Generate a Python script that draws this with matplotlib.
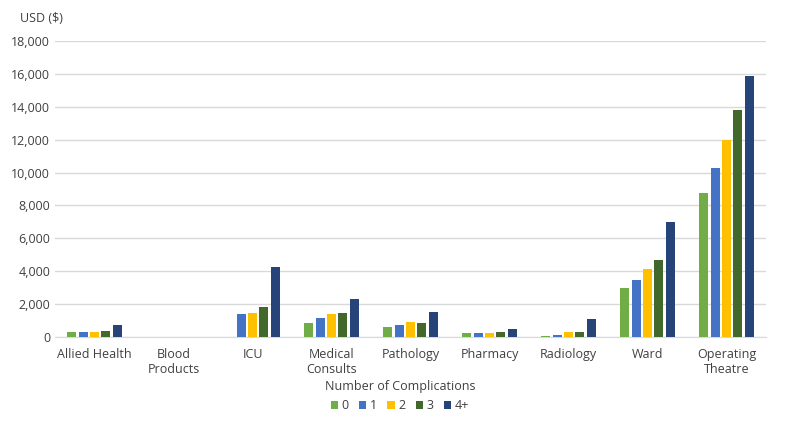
import matplotlib
matplotlib.use("Agg")
import matplotlib.pyplot as plt
import numpy as np
from matplotlib.ticker import FuncFormatter

plt.rcParams['font.family'] = ['Open Sans', 'DejaVu Sans']

categories = ["Allied Health", "Blood\nProducts", "ICU", "Medical\nConsults", "Pathology",
              "Pharmacy", "Radiology", "Ward", "Operating\nTheatre"]
series_names = ["0", "1", "2", "3", "4+"]
v0 = [280, 0, 0, 850, 600, 250, 80, 2980, 8750]
v1 = [300, 0, 1380, 1130, 750, 260, 150, 3480, 10300]
v2 = [300, 0, 1430, 1420, 930, 270, 280, 4130, 12000]
v3 = [380, 0, 1850, 1480, 860, 300, 330, 4700, 13800]
v4 = [760, 0, 4230, 2320, 1520, 470, 1070, 7000, 15900]
series = [v0, v1, v2, v3, v4]
colors = ["#70AD47", "#4472C4", "#FFC000", "#43682B", "#264478"]

fig = plt.figure(figsize=(8, 4.28), dpi=100)
ax = fig.add_axes([55/800, 1-337/428, (766-55)/800, (337-41)/428])

x = np.arange(len(categories))
step = 0.145
width = 0.115
for i, (vals, c, n) in enumerate(zip(series, colors, series_names)):
    ax.bar(x + (i-2)*step, vals, width=width, color=c, label=n, zorder=3)

ax.set_xlim(-0.5, len(categories)-0.5)
ax.set_ylim(0, 18000)
ax.set_yticks(np.arange(0, 18001, 2000))
ax.yaxis.set_major_formatter(FuncFormatter(lambda v, p: f"{int(v):,}"))
ax.grid(axis='y', color='#D9D9D9', linewidth=1, zorder=0)
for s in ['top', 'right', 'left']:
    ax.spines[s].set_visible(False)
ax.spines['bottom'].set_color('#D9D9D9')
ax.tick_params(axis='both', length=0, labelsize=9, colors='#404040')
ax.tick_params(axis='x', pad=8)
ax.set_xticks(x)
ax.set_xticklabels(categories)

fig.text(20/800, 1-18/428, "USD ($)", fontsize=9, color='#404040', va='center', ha='left')

leg = fig.legend(loc='center', bbox_to_anchor=(400/800, 1-396/428), ncol=5, frameon=False,
                 title="Number of Complications", fontsize=9, title_fontsize=9,
                 handlelength=0.6, handleheight=0.6, handletextpad=0.3, columnspacing=0.8)
for t in leg.get_texts():
    t.set_color('#404040')
leg.get_title().set_color('#404040')

fig.savefig("out.png", dpi=100)
